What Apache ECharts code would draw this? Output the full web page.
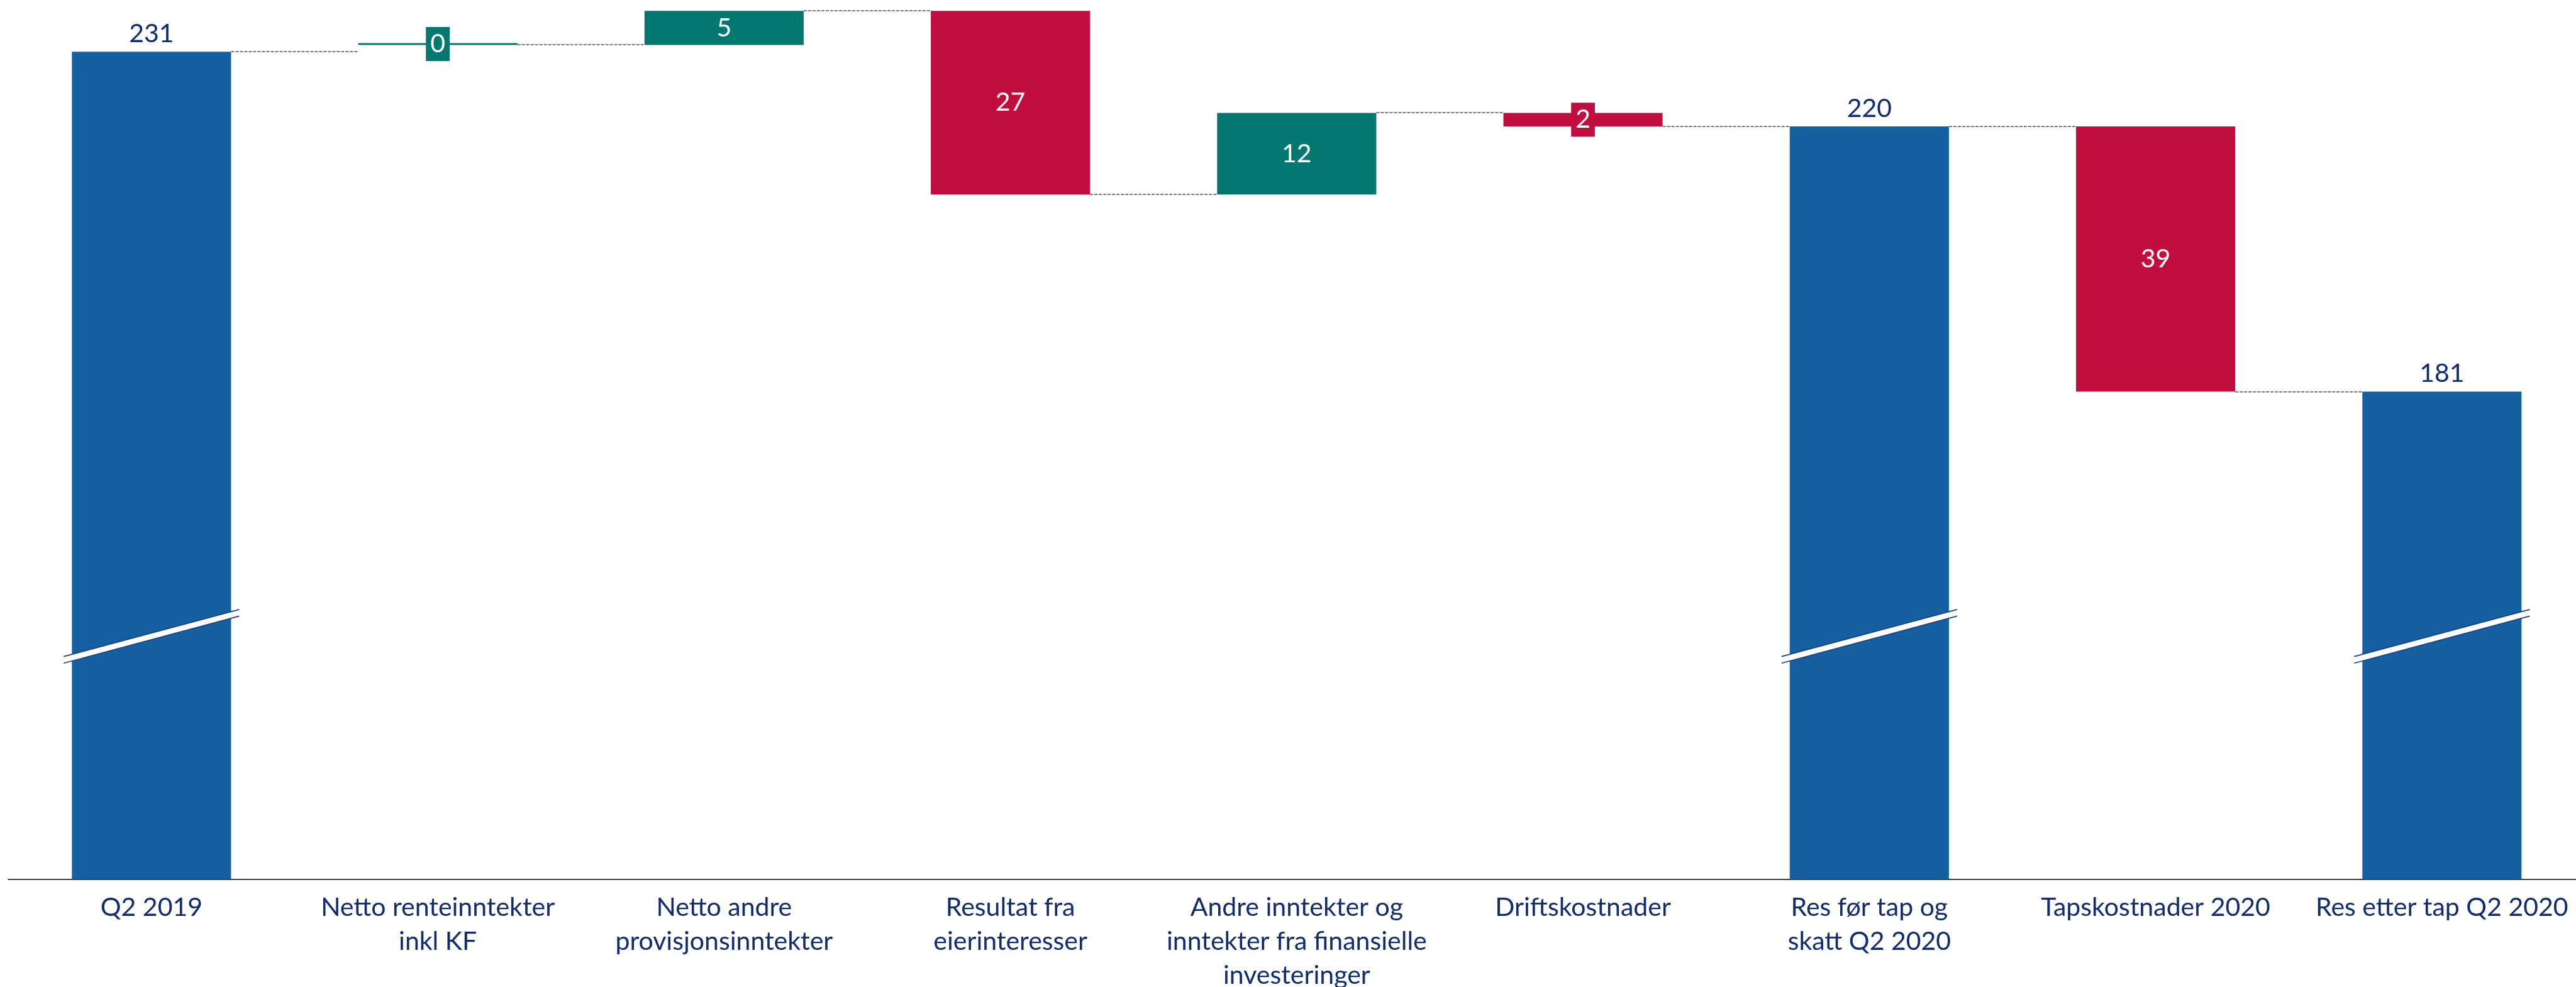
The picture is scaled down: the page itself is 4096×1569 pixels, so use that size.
<!DOCTYPE html>
<html>
<head>
<meta charset="utf-8">
<script src="https://cdn.jsdelivr.net/npm/echarts@6/dist/echarts.min.js"></script>
<style>
  html, body { margin: 0; padding: 0; background: #ffffff; }
  #chart { width: 4096px; height: 1569px; }
</style>
</head>
<body>
<div id="chart"></div>
<script>
// Result bridge, Q2 2019 -> Q2 2020 (MNOK)
const categories = [
  'Q2 2019',
  'Netto renteinntekter\ninkl KF',
  'Netto andre\nprovisjonsinntekter',
  'Resultat fra\neierinteresser',
  'Andre inntekter og\ninntekter fra finansielle\ninvesteringer',
  'Driftskostnader',
  'Res før tap og\nskatt Q2 2020',
  'Tapskostnader 2020',
  'Res etter tap Q2 2020'
];
// 'total' = subtotal bar standing on the axis, 'delta' = floating change
const kinds = ['total', 'delta', 'delta', 'delta', 'delta', 'delta', 'total', 'delta', 'total'];
const values = [231, 0, 5, -27, 12, -2, 220, -39, 181];

const BLUE = '#1460a0';
const TEAL = '#037870';
const RED = '#c20e3e';
const NAVY = '#0e2c6e';
const BREAK_EDGE = '#1a4082';
const FONT = 'Lato';
const BAR_SHARE = 0.556;      // bar width as share of the category band
const BREAK_LEVEL = 145;      // where the axis-break mark crosses the subtotal bars
const AXIS_MIN = 109.3;
const AXIS_MAX = 238;

// Floating bars are anchored on the subtotal they lead into.
const startLevel = [], endLevel = [];
let level = null;
for (let i = values.length - 1; i >= 0; i--) {
  if (kinds[i] === 'total') {
    startLevel[i] = values[i];
    endLevel[i] = values[i];
    level = values[i];
  } else {
    endLevel[i] = level;
    startLevel[i] = level - values[i];
    level = startLevel[i];
  }
}

const baseData = values.map((v, i) =>
  kinds[i] === 'total' ? '-' : Math.min(startLevel[i], endLevel[i]));

const deltaData = values.map((v, i) => {
  if (kinds[i] === 'total') return '-';
  const color = v >= 0 ? TEAL : RED;
  const item = { value: Math.abs(v), itemStyle: { color: color } };
  if (Math.abs(v) < 3) {
    item.label = { backgroundColor: color, padding: [4, 7] };
  }
  return item;
});

const totalData = values.map((v, i) => kinds[i] === 'total' ? v : '-');

const connectorData = [];
for (let i = 0; i < values.length - 1; i++) connectorData.push([i, endLevel[i]]);

const breakData = [];
kinds.forEach((k, i) => { if (k === 'total') breakData.push([i, BREAK_LEVEL]); });

const chart = echarts.init(document.getElementById('chart'), null, { renderer: 'canvas' });

chart.setOption({
  animation: false,
  backgroundColor: '#ffffff',
  grid: {
    left: 13.24, width: 4097.2, top: 6.56, bottom: 171.7,
    containLabel: false,
    outerBoundsMode: 'none'
  },
  xAxis: {
    type: 'category',
    data: categories,
    axisLine: { show: true, lineStyle: { color: '#3f3f3f', width: 2 } },
    axisTick: { show: false },
    splitLine: { show: false },
    axisLabel: {
      interval: 0,
      color: NAVY,
      fontFamily: FONT,
      fontSize: 41,
      lineHeight: 54,
      margin: 18,
      align: 'center'
    }
  },
  yAxis: { type: 'value', min: AXIS_MIN, max: AXIS_MAX, show: false, splitLine: { show: false } },
  series: [
    {
      name: 'connectors',
      type: 'custom',
      silent: true,
      z: 1,
      data: connectorData,
      renderItem: function (params, api) {
        const i = api.value(0), lvl = api.value(1);
        const p0 = api.coord([i, lvl]);
        const p1 = api.coord([i + 1, lvl]);
        const hw = api.size([1, 0])[0] * BAR_SHARE / 2;
        const y = Math.round(p0[1]);
        return {
          type: 'line',
          shape: { x1: p0[0] + hw, y1: y, x2: p1[0] - hw, y2: y },
          style: { stroke: '#7a7a7a', lineWidth: 2, lineDash: [5, 2] }
        };
      }
    },
    {
      name: 'base',
      type: 'bar',
      stack: 'bridge',
      barWidth: (BAR_SHARE * 100) + '%',
      clip: true,
      silent: true,
      z: 2,
      itemStyle: { color: 'rgba(0,0,0,0)' },
      data: baseData
    },
    {
      name: 'change',
      type: 'bar',
      stack: 'bridge',
      barWidth: (BAR_SHARE * 100) + '%',
      barMinHeight: 3,
      clip: true,
      z: 3,
      data: deltaData,
      label: {
        show: true,
        position: 'inside',
        color: '#ffffff',
        fontFamily: FONT,
        fontSize: 41,
        lineHeight: 46,
        formatter: function (p) { return String(Math.abs(values[p.dataIndex])); }
      }
    },
    {
      name: 'subtotal',
      type: 'bar',
      stack: 'bridge',
      barWidth: (BAR_SHARE * 100) + '%',
      clip: true,
      z: 3,
      itemStyle: { color: BLUE },
      data: totalData,
      label: {
        show: true,
        position: 'top',
        distance: 8,
        color: NAVY,
        fontFamily: FONT,
        fontSize: 41,
        formatter: function (p) { return String(values[p.dataIndex]); }
      }
    },
    {
      name: 'axis break',
      type: 'custom',
      silent: true,
      z: 5,
      data: breakData,
      renderItem: function (params, api) {
        const c = api.coord([api.value(0), api.value(1)]);
        const half = api.size([1, 0])[0] * BAR_SHARE / 2 + 13;
        const slope = 0.268;
        const gap = 5.3;
        const xl = c[0] - half, xr = c[0] + half;
        const yl = c[1] + half * slope, yr = c[1] - half * slope;
        return {
          type: 'group',
          children: [
            { type: 'polygon', shape: { points: [[xl, yl - gap], [xr, yr - gap], [xr, yr + gap], [xl, yl + gap]] },
              style: { fill: '#ffffff' } },
            { type: 'line', shape: { x1: xl, y1: yl - gap, x2: xr, y2: yr - gap },
              style: { stroke: BREAK_EDGE, lineWidth: 1.7 } },
            { type: 'line', shape: { x1: xl, y1: yl + gap, x2: xr, y2: yr + gap },
              style: { stroke: BREAK_EDGE, lineWidth: 1.7 } }
          ]
        };
      }
    }
  ]
});
</script>
</body>
</html>
